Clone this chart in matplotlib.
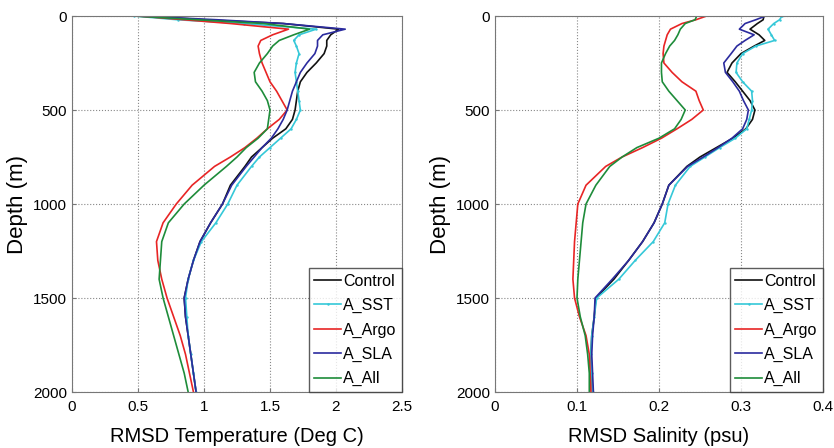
import matplotlib
matplotlib.use("Agg")
import matplotlib.pyplot as plt

plt.rcParams['font.family'] = ['Liberation Sans', 'DejaVu Sans']

depth = [0, 20, 40, 70, 100, 130, 160, 200, 250, 300, 350, 400, 450, 500, 550, 600,
         650, 700, 750, 800, 900, 1000, 1100, 1200, 1300, 1400, 1500, 1600, 1700,
         1800, 1900, 2000]

series_names = ['Control', 'A_SST', 'A_Argo', 'A_SLA', 'A_All']

temp_control = [0.55, 1.0, 1.6, 2.02, 1.96, 1.93, 1.93, 1.91, 1.85, 1.78, 1.73, 1.71, 1.70,
                1.69, 1.67, 1.62, 1.52, 1.44, 1.36, 1.31, 1.20, 1.14, 1.05, 0.97, 0.92,
                0.88, 0.85, 0.86, 0.88, 0.90, 0.92, 0.94]
temp_sst = [0.47, 0.8, 1.3, 1.85, 1.72, 1.68, 1.70, 1.72, 1.70, 1.69, 1.70, 1.71, 1.72,
            1.73, 1.70, 1.66, 1.58, 1.50, 1.42, 1.36, 1.25, 1.18, 1.09, 0.98, 0.92,
            0.88, 0.86, 0.87, 0.88, 0.90, 0.92, 0.94]
temp_argo = [0.50, 0.85, 1.2, 1.64, 1.52, 1.43, 1.41, 1.42, 1.44, 1.47, 1.50, 1.55, 1.59,
             1.63, 1.57, 1.48, 1.40, 1.31, 1.20, 1.08, 0.91, 0.79, 0.69, 0.64, 0.65,
             0.68, 0.72, 0.77, 0.82, 0.86, 0.89, 0.92]
temp_sla = [0.50, 1.1, 1.6, 2.07, 1.90, 1.86, 1.86, 1.84, 1.78, 1.73, 1.70, 1.67, 1.65,
            1.63, 1.60, 1.56, 1.51, 1.44, 1.38, 1.32, 1.21, 1.14, 1.05, 0.97, 0.92,
            0.88, 0.85, 0.86, 0.88, 0.90, 0.92, 0.94]
temp_all = [0.47, 0.95, 1.45, 1.80, 1.68, 1.57, 1.52, 1.48, 1.42, 1.38, 1.39, 1.44, 1.48,
            1.50, 1.49, 1.48, 1.41, 1.32, 1.25, 1.17, 1.00, 0.85, 0.73, 0.68, 0.67,
            0.66, 0.69, 0.73, 0.77, 0.81, 0.85, 0.88]

sal_control = [0.328, 0.327, 0.320, 0.311, 0.322, 0.329, 0.316, 0.300, 0.289, 0.283, 0.293,
               0.302, 0.311, 0.317, 0.314, 0.306, 0.290, 0.270, 0.250, 0.234, 0.212, 0.204,
               0.194, 0.180, 0.163, 0.145, 0.123, 0.121, 0.118, 0.117, 0.118, 0.119]
sal_sst = [0.350, 0.347, 0.340, 0.333, 0.337, 0.341, 0.318, 0.302, 0.295, 0.294, 0.302,
           0.313, 0.314, 0.313, 0.310, 0.307, 0.293, 0.274, 0.256, 0.238, 0.220, 0.211,
           0.207, 0.193, 0.171, 0.151, 0.124, 0.121, 0.118, 0.117, 0.118, 0.119]
sal_argo = [0.258, 0.245, 0.228, 0.214, 0.210, 0.208, 0.206, 0.205, 0.206, 0.216, 0.228,
            0.245, 0.249, 0.254, 0.240, 0.222, 0.203, 0.180, 0.155, 0.135, 0.111, 0.101,
            0.099, 0.097, 0.096, 0.095, 0.097, 0.103, 0.111, 0.115, 0.116, 0.117]
sal_sla = [0.330, 0.318, 0.305, 0.298, 0.316, 0.305, 0.295, 0.288, 0.279, 0.281, 0.290,
           0.298, 0.303, 0.309, 0.307, 0.302, 0.289, 0.272, 0.254, 0.235, 0.212, 0.204,
           0.194, 0.180, 0.163, 0.143, 0.122, 0.121, 0.119, 0.118, 0.119, 0.120]
sal_all = [0.246, 0.244, 0.232, 0.226, 0.223, 0.219, 0.213, 0.208, 0.203, 0.203, 0.204,
           0.212, 0.222, 0.232, 0.227, 0.219, 0.200, 0.173, 0.155, 0.140, 0.123, 0.111,
           0.107, 0.105, 0.103, 0.101, 0.100, 0.104, 0.110, 0.113, 0.115, 0.115]

temp_xticks = [0, 0.5, 1, 1.5, 2, 2.5]
sal_xticks = [0, 0.1, 0.2, 0.3, 0.4]
yticks = [0, 500, 1000, 1500, 2000]

colors = ['#111111', '#35C8D8', '#E82525', '#2B2B9E', '#1E8C3A']

fig = plt.figure(figsize=(8.34, 4.48), dpi=100)
ax1 = fig.add_axes([72 / 834, 56 / 448, 330 / 834, 376 / 448])
ax2 = fig.add_axes([495 / 834, 56 / 448, 328 / 834, 376 / 448])


def draw(ax, data, xticks, xlabel):
    for i, (vals, name) in enumerate(zip(data, series_names)):
        kw = {}
        if name == 'A_SST':
            kw = dict(marker='.', markersize=1.5)
        ax.plot(vals, depth, color=colors[i], lw=1.2, label=name, **kw)
    ax.set_xlim(xticks[0], xticks[-1])
    ax.set_ylim(2000, 0)
    ax.set_xticks(xticks)
    ax.set_xticklabels([('%g' % t) for t in xticks])
    ax.set_yticks(yticks)
    ax.grid(True, linestyle=':', color='#888888', lw=0.8)
    for s in ax.spines.values():
        s.set_color('#777777')
        s.set_linewidth(0.8)
    ax.tick_params(labelsize=11, length=3, color='#777777', direction='in')
    ax.tick_params(axis='x', pad=6)
    ax.set_xlabel(xlabel, fontsize=14.5, labelpad=9)
    ax.set_ylabel('Depth (m)', fontsize=16, labelpad=4)
    leg = ax.legend(loc='lower right', fontsize=11.5, frameon=True, fancybox=False,
                    borderaxespad=0, handlelength=1.7, handletextpad=0.1,
                    labelspacing=0.58, borderpad=0.35)
    leg.get_frame().set_edgecolor('#333333')
    leg.get_frame().set_linewidth(1.0)


draw(ax1, [temp_control, temp_sst, temp_argo, temp_sla, temp_all], temp_xticks,
     'RMSD Temperature (Deg C)')
draw(ax2, [sal_control, sal_sst, sal_argo, sal_sla, sal_all], sal_xticks,
     'RMSD Salinity (psu)')

fig.savefig('out.png', dpi=100)
